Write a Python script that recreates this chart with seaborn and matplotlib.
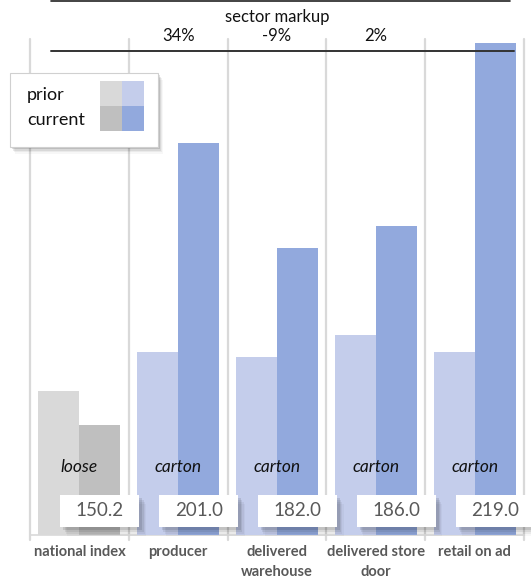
import pandas as pd
import matplotlib.pyplot as plt
import matplotlib.patches as mpatches
import seaborn as sns

# chart values
stages = ["national index", "producer", "delivered\nwarehouse", "delivered store\ndoor", "retail on ad"]
prior = [156.3, 163.4, 162.5, 166.4, 163.4]
current = [150.2, 201.0, 182.0, 186.0, 219.0]
packaging = ["loose", "carton", "carton", "carton", "carton"]
markup = ["34%", "-9%", "2%"]

gray_prior, gray_current = "#D9D9D9", "#BFBFBF"
blue_prior, blue_current = "#C4CDEB", "#92A9DD"

df = pd.DataFrame({
    "stage": stages * 2,
    "value": prior + current,
    "period": ["prior"] * len(stages) + ["current"] * len(stages),
})

sns.set_theme(style="white")
plt.rcParams["font.family"] = ["Lato", "DejaVu Sans"]

W, H = 531, 584
fig = plt.figure(figsize=(W / 100, H / 100), dpi=100)
base_px = 535
ax = fig.add_axes([30 / W, (H - base_px) / H, 494 / W, base_px / H])


def fx(px):
    return px / W


def fy(py):
    return 1 - py / H


def ay(py):
    # axes fraction from figure pixel row
    return (base_px - py) / base_px


sns.barplot(data=df, x="stage", y="value", hue="period", order=stages,
            hue_order=["prior", "current"], palette=[blue_prior, blue_current],
            width=0.83, gap=0, saturation=1, legend=False, ax=ax, zorder=2)

# first category is grey
for i, cont in enumerate(ax.containers):
    cont[0].set_facecolor([gray_prior, gray_current][i])
    for p in cont:
        p.set_edgecolor("none")

ax.set_xlim(-0.5, 4.5)
ax.set_ylim(130.4, 130.4 + 0.18 * base_px)
ax.axis("off")

# category separators
for i in range(6):
    ax.plot([i - 0.5, i - 0.5], [ay(540), ay(39)], transform=ax.get_xaxis_transform(),
            color="#D9D9D9", lw=1.6, zorder=1, clip_on=False)
ax.plot([-0.5, 4.5], [0, 0], transform=ax.get_xaxis_transform(),
        color="#D9D9D9", lw=1.2, zorder=1, clip_on=False)

# packaging labels and value boxes
bw = 0.83 / 2
for i in range(len(stages)):
    ax.text(i, ay(467), packaging[i], transform=ax.get_xaxis_transform(),
            ha="center", va="center", fontsize=12.5, style="italic", color="#111111", zorder=5)
    cx = i + bw / 2
    for k, a in enumerate([0.10, 0.07, 0.05, 0.03]):
        sh = mpatches.Rectangle((cx - 0.4 + 0.03 + k * 0.012, ay(527 + 3 + k * 2)), 0.8, ay(495) - ay(527),
                                transform=ax.get_xaxis_transform(), facecolor="black",
                                alpha=a, edgecolor="none", zorder=4, clip_on=False)
        ax.add_patch(sh)
    box = mpatches.Rectangle((cx - 0.4, ay(527)), 0.8, ay(495) - ay(527),
                             transform=ax.get_xaxis_transform(), facecolor="white",
                             edgecolor="none", zorder=5, clip_on=False)
    ax.add_patch(box)
    ax.text(cx, ay(511), f"{current[i]:.1f}", transform=ax.get_xaxis_transform(),
            ha="center", va="center", fontsize=13.5, color="#595959", zorder=6)
    ax.text(i, ay(545), stages[i], transform=ax.get_xaxis_transform(),
            ha="center", va="top", fontsize=10.5, fontweight="bold", color="#595959",
            linespacing=1.55, clip_on=False)

# sector markup header
ax.plot([fx(51), fx(510)], [fy(1), fy(1)], transform=fig.transFigure, color="#222222", lw=1.2, clip_on=False)
ax.plot([fx(51), fx(514)], [fy(51), fy(51)], transform=fig.transFigure, color="#333333", lw=1.4,
        zorder=7, clip_on=False)
ax.text(2, ay(17), "sector markup", transform=ax.get_xaxis_transform(),
        ha="center", va="center", fontsize=12, color="#111111", clip_on=False)
for i, m in enumerate(markup):
    ax.text(i + 1, ay(36), m, transform=ax.get_xaxis_transform(),
            ha="center", va="center", fontsize=12, color="#111111", clip_on=False)

# legend
for k, a in enumerate([0.12, 0.08, 0.05, 0.03]):
    fig.patches.append(mpatches.Rectangle((fx(12 + k), fy(149 + k * 1.5)), fx(148), fy(73) - fy(147),
                                          transform=fig.transFigure, facecolor="black",
                                          alpha=a, edgecolor="none", zorder=8))
fig.patches.append(mpatches.Rectangle((fx(10), fy(147)), fx(148), fy(73) - fy(147),
                                      transform=fig.transFigure, facecolor="white",
                                      edgecolor="#D0D0D0", lw=0.8, zorder=9))
swatches = [(100, 81, gray_prior), (122, 81, blue_prior), (100, 106, gray_current), (122, 106, blue_current)]
for sx, sy, c in swatches:
    fig.patches.append(mpatches.Rectangle((fx(sx), fy(sy + 25)), fx(22), fy(sy) - fy(sy + 25),
                                          transform=fig.transFigure, facecolor=c,
                                          edgecolor="none", zorder=10))
fig.text(fx(27), fy(95), "prior", ha="left", va="center", fontsize=13, color="#111111", zorder=11)
fig.text(fx(27), fy(120), "current", ha="left", va="center", fontsize=13, color="#111111", zorder=11)

plt.savefig("out.png", dpi=100)
